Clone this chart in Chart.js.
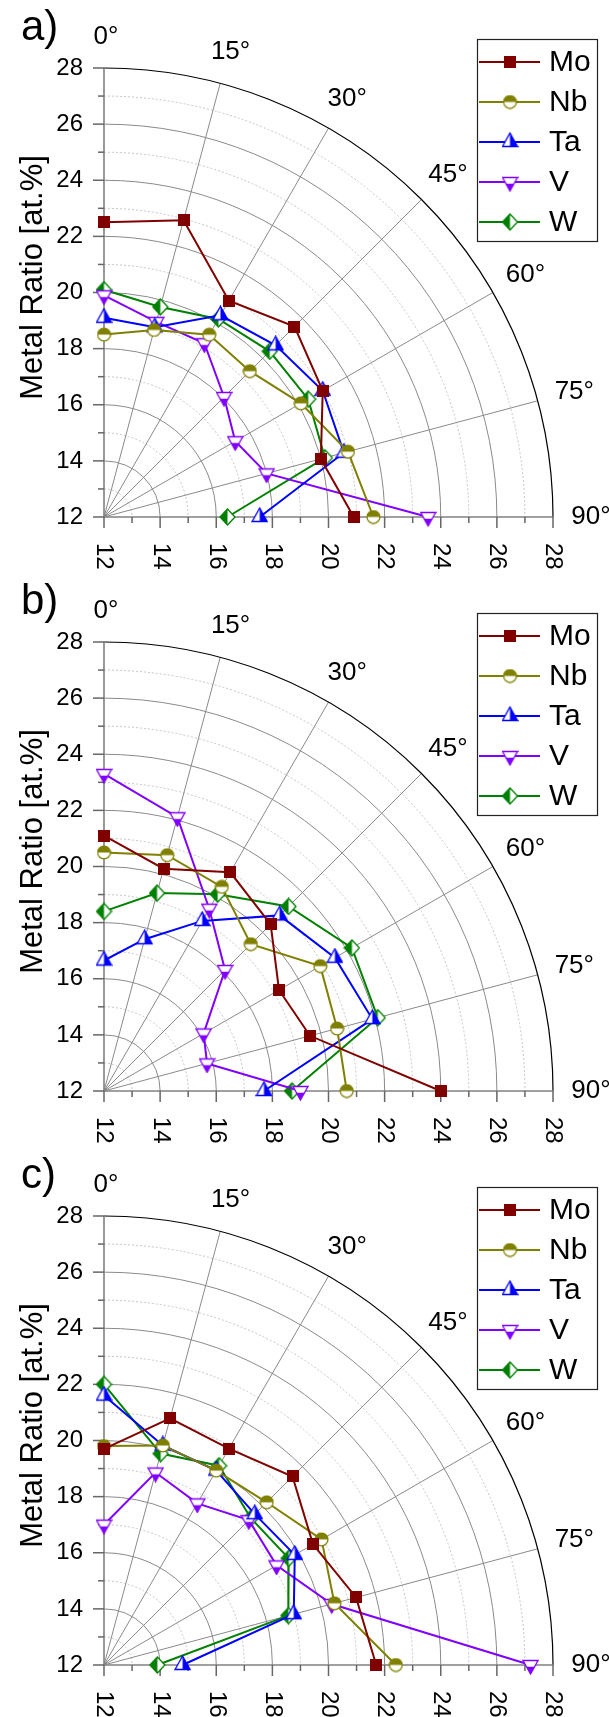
<!DOCTYPE html>
<html>
<head>
<meta charset="utf-8">
<script src="https://cdn.jsdelivr.net/npm/chart.js@4/dist/chart.umd.min.js"></script>
<style>
html,body{margin:0;padding:0;background:#fff;width:609px;height:1717px;overflow:hidden}
.panel{position:relative;width:609px;height:574px}
canvas{display:block}
</style>
</head>
<body>
<div class="panel"><canvas id="pa" width="609" height="574"></canvas></div>
<div class="panel"><canvas id="pb" width="609" height="574"></canvas></div>
<div class="panel"><canvas id="pc" width="609" height="574"></canvas></div>
<script>
// ---------- data ----------
const angles = [0, 15, 30, 45, 60, 75, 90];            // polar angle (deg)
const elements = ['Mo', 'Nb', 'Ta', 'V', 'W'];
const colors = ['#800000', '#808000', '#0000ff', '#8000ff', '#008000'];
const radialTicks = [12, 14, 16, 18, 20, 22, 24, 26, 28];
const angleTicks = [0, 15, 30, 45, 60, 75, 90];
const panelLabels = ['a)', 'b)', 'c)'];
const axisTitle = 'Metal Ratio [at.%]';

// panel a
const a_Mo = [22.5, 22.95, 20.9, 21.6, 21.0, 20.0, 20.9];
const a_Nb = [18.5, 18.9, 19.5, 19.35, 20.1, 21.0, 21.6];
const a_Ta = [19.1, 19.0, 20.3, 20.65, 21.0, 20.85, 17.55];
const a_V  = [19.9, 19.2, 19.15, 18.05, 17.4, 18.0, 23.55];
const a_W  = [20.1, 19.75, 20.15, 20.35, 20.4, 20.15, 16.4];
// panel b
const b_Mo = [21.1, 20.2, 21.0, 20.4, 19.2, 19.6, 24.0];
const b_Nb = [20.5, 20.7, 20.4, 19.4, 20.9, 20.6, 20.65];
const b_Ta = [16.65, 17.6, 19.0, 20.85, 21.5, 21.9, 17.7];
const b_V  = [23.3, 22.1, 19.5, 18.1, 16.1, 15.8, 19.0];
const b_W  = [18.4, 19.3, 20.1, 21.3, 22.2, 22.1, 18.7];
// panel c
const c_Mo = [19.7, 21.1, 20.9, 21.5, 20.6, 21.3, 21.7];
const c_Nb = [19.8, 20.1, 20.0, 20.2, 20.95, 20.5, 22.4];
const c_Ta = [21.6, 20.1, 20.0, 19.6, 19.85, 19.0, 14.8];
const c_V  = [17.0, 19.1, 18.65, 19.3, 19.1, 20.4, 27.2];
const c_W  = [22.0, 19.8, 20.2, 19.4, 19.6, 18.8, 13.9];

const panelData = [
  [a_Mo, a_Nb, a_Ta, a_V, a_W],
  [b_Mo, b_Nb, b_Ta, b_V, b_W],
  [c_Mo, c_Nb, c_Ta, c_V, c_W]
];

// ---------- helpers ----------
const FONT = '"Liberation Sans", Arial, Helvetica, sans-serif';
function polarPoint(r, deg) {
  const t = deg * Math.PI / 180;
  return { x: 12 + (r - 12) * Math.sin(t), y: 12 + (r - 12) * Math.cos(t) };
}

function makeMarker(kind, color) {
  const c = document.createElement('canvas');
  const g = c.getContext('2d');
  const lw = 1.3;
  if (kind === 'square') {
    c.width = 12; c.height = 12;
    g.fillStyle = color; g.fillRect(0, 0, 12, 12);
    return c;
  }
  let path, clipRect;
  if (kind === 'circle') {
    c.width = 15; c.height = 15;
    path = () => { g.beginPath(); g.arc(7.5, 7.5, 6.4, 0, Math.PI * 2); };
    clipRect = [0, 0, 15, 7.5];
  } else if (kind === 'triUp') {
    c.width = 17; c.height = 20;
    path = () => { g.beginPath(); g.moveTo(8.5, 1); g.lineTo(16, 14.5); g.lineTo(1, 14.5); g.closePath(); };
    clipRect = [8.5, 0, 9, 20];
  } else if (kind === 'triDown') {
    c.width = 17; c.height = 20;
    path = () => { g.beginPath(); g.moveTo(1, 5.5); g.lineTo(16, 5.5); g.lineTo(8.5, 19); g.closePath(); };
    clipRect = [0, 11.8, 17, 9];
  } else { // diamond
    c.width = 17; c.height = 18;
    path = () => { g.beginPath(); g.moveTo(8.5, 1); g.lineTo(16, 9); g.lineTo(8.5, 17); g.lineTo(1, 9); g.closePath(); };
    clipRect = [0, 0, 8.5, 18];
  }
  path(); g.fillStyle = '#ffffff'; g.fill();
  g.save(); g.beginPath(); g.rect(...clipRect); g.clip();
  path(); g.fillStyle = color; g.fill();
  g.restore();
  path(); g.strokeStyle = color; g.lineWidth = lw; g.stroke();
  return c;
}
const markerKinds = ['square', 'circle', 'triUp', 'triDown', 'diamond'];
const markers = markerKinds.map((k, i) => makeMarker(k, colors[i]));

// ---------- polar frame plugin ----------
const polarFrame = {
  id: 'polarFrame',
  beforeDatasetsDraw(chart) {
    const { ctx, scales: { x, y } } = chart;
    const cx = x.getPixelForValue(12), cy = y.getPixelForValue(12);
    const rad = v => x.getPixelForValue(v) - cx;
    const R = rad(28);
    ctx.save();
    // minor dotted arcs
    ctx.setLineDash([2, 2]); ctx.lineWidth = 1; ctx.strokeStyle = '#c4c4c4';
    for (let i = 0; i < radialTicks.length - 1; i++) {
      const v = (radialTicks[i] + radialTicks[i + 1]) / 2;
      ctx.beginPath(); ctx.arc(cx, cy, rad(v), -Math.PI / 2, 0); ctx.stroke();
    }
    ctx.setLineDash([]);
    // major arcs
    ctx.strokeStyle = '#8a8a8a'; ctx.lineWidth = 1;
    radialTicks.forEach(v => {
      if (v > 12 && v < 28) { ctx.beginPath(); ctx.arc(cx, cy, rad(v), -Math.PI / 2, 0); ctx.stroke(); }
    });
    // radial spokes
    angleTicks.forEach(a => {
      if (a > 0 && a < 90) {
        const t = a * Math.PI / 180;
        ctx.beginPath(); ctx.moveTo(cx, cy); ctx.lineTo(cx + R * Math.sin(t), cy - R * Math.cos(t)); ctx.stroke();
      }
    });
    // outer arc
    ctx.strokeStyle = '#000'; ctx.lineWidth = 1.2;
    ctx.beginPath(); ctx.arc(cx, cy, R, -Math.PI / 2, 0); ctx.stroke();
    // axes
    ctx.strokeStyle = '#808080'; ctx.lineWidth = 1.6;
    ctx.beginPath(); ctx.moveTo(cx, cy); ctx.lineTo(cx, cy - R); ctx.stroke();
    ctx.beginPath(); ctx.moveTo(cx, cy); ctx.lineTo(cx + R, cy); ctx.stroke();
    // ticks
    ctx.strokeStyle = '#666'; ctx.lineWidth = 1.5;
    for (let v = 12; v <= 28; v++) {
      const len = (v % 2 === 0) ? 11 : 6;
      const py = y.getPixelForValue(v), px = x.getPixelForValue(v);
      ctx.beginPath(); ctx.moveTo(cx - len, py); ctx.lineTo(cx, py); ctx.stroke();
      ctx.beginPath(); ctx.moveTo(px, cy); ctx.lineTo(px, cy + len); ctx.stroke();
    }
    ctx.restore();
  },
  afterDraw(chart, args, opts) {
    const { ctx, scales: { x, y } } = chart;
    const cx = x.getPixelForValue(12), cy = y.getPixelForValue(12);
    const R = x.getPixelForValue(28) - cx;
    ctx.save();
    ctx.fillStyle = '#000';
    // radial tick labels (left)
    ctx.font = '24px ' + FONT;
    ctx.textAlign = 'right'; ctx.textBaseline = 'middle';
    radialTicks.forEach(v => ctx.fillText(String(v), cx - 21, y.getPixelForValue(v)));
    // radial tick labels (bottom, rotated)
    radialTicks.forEach(v => {
      ctx.save();
      ctx.translate(x.getPixelForValue(v), cy + 26);
      ctx.rotate(Math.PI / 2);
      ctx.textAlign = 'left'; ctx.textBaseline = 'middle';
      ctx.fillText(String(v), 0, 0);
      ctx.restore();
    });
    // angle labels
    ctx.font = '26px ' + FONT;
    ctx.textAlign = 'center'; ctx.textBaseline = 'middle';
    angleTicks.forEach(a => {
      const t = a * Math.PI / 180;
      const rr = R + 31 + 5 * Math.sin(t);
      ctx.fillText(a + '°', cx + rr * Math.sin(t) + 2, cy - rr * Math.cos(t));
    });
    // axis title
    ctx.save();
    ctx.font = '31px ' + FONT;
    ctx.translate(42, (y.getPixelForValue(28) + cy) / 2 - 15);
    ctx.rotate(-Math.PI / 2);
    ctx.textAlign = 'center'; ctx.textBaseline = 'alphabetic';
    ctx.fillText(axisTitle, 0, 0);
    ctx.restore();
    // panel label
    ctx.font = '42px ' + FONT;
    ctx.textAlign = 'left'; ctx.textBaseline = 'alphabetic';
    ctx.fillText(opts.label, 21, 40);
    // legend
    const lx = 477, ly = 39, lw = 120, lh = 202;
    ctx.fillStyle = '#fff'; ctx.fillRect(lx, ly, lw, lh);
    ctx.strokeStyle = '#222'; ctx.lineWidth = 1.2;
    ctx.strokeRect(lx + 0.5, ly + 0.5, lw, lh);
    ctx.font = '30px ' + FONT;
    ctx.textAlign = 'left'; ctx.textBaseline = 'middle';
    chart.data.datasets.forEach((ds, i) => {
      const yy = ly + 23 + i * 40;
      ctx.strokeStyle = ds.borderColor; ctx.lineWidth = 2;
      ctx.beginPath(); ctx.moveTo(lx + 2, yy); ctx.lineTo(lx + 63, yy); ctx.stroke();
      const m = ds.pointStyle;
      ctx.drawImage(m, lx + 33 - m.width / 2, yy - m.height / 2);
      ctx.fillStyle = '#000';
      ctx.fillText(ds.label, lx + 72, yy + 1);
    });
    ctx.restore();
  }
};

// ---------- charts ----------
['pa', 'pb', 'pc'].forEach((id, p) => {
  const vals = panelData[p];
  new Chart(document.getElementById(id), {
    type: 'scatter',
    data: {
      datasets: elements.map((name, i) => ({
        label: name,
        data: angles.map((a, k) => polarPoint(vals[i][k], a)),
        showLine: true,
        borderColor: colors[i],
        backgroundColor: colors[i],
        borderWidth: 2,
        pointStyle: markers[i],
        pointRadius: 7,
        pointHoverRadius: 7,
        tension: 0,
        clip: false
      }))
    },
    options: {
      responsive: false,
      animation: false,
      devicePixelRatio: 1,
      events: [],
      layout: { padding: { left: 104, right: 56, top: 68, bottom: 57 } },
      scales: {
        x: { type: 'linear', min: 12, max: 28, display: false },
        y: { type: 'linear', min: 12, max: 28, display: false }
      },
      plugins: {
        legend: { display: false },
        tooltip: { enabled: false },
        polarFrame: { label: panelLabels[p] }
      }
    },
    plugins: [polarFrame]
  });
});
</script>
</body>
</html>
